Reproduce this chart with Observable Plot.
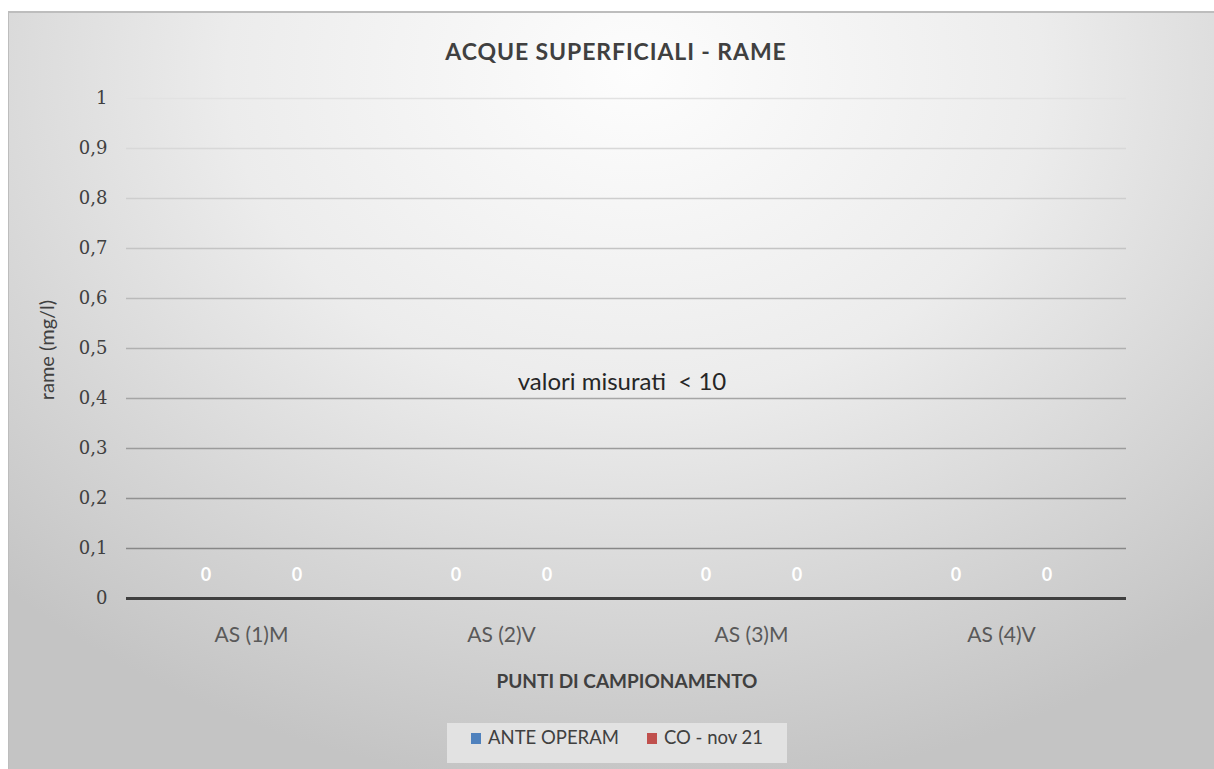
<!DOCTYPE html>
<html>
<head>
<meta charset="utf-8">
<script src="https://cdn.jsdelivr.net/npm/d3@7"></script>
<script src="https://cdn.jsdelivr.net/npm/@observablehq/plot@0.6"></script>
<style>
  html, body { margin: 0; padding: 0; background: #ffffff; }
  body { position: relative; width: 1214px; height: 769px; overflow: hidden; font-family: Lato, "Open Sans", sans-serif; }
  #frame {
    position: absolute; left: 8px; top: 11px; width: 1206px; height: 758px;
    background: radial-gradient(ellipse 75% 95% at 52% 8%, #fdfdfd 0%, #ececec 45%, #d6d6d6 75%, #c4c4c4 100%);
    box-shadow: inset 1px 2px 0 #bdbdbd;
  }
  #chart { position: absolute; left: 8px; top: 11px; }
  .lbl { position: absolute; white-space: nowrap; line-height: 1; }
  #title { left: 0; width: 1232px; text-align: center; top: 40px; font-size: 23px; letter-spacing: 0.9px; font-weight: bold; color: #404040; }
  #ylabel { left: 46px; top: 350px; transform: translate(-50%, -50%) rotate(-90deg); font-size: 20px; color: #404040; }
  #note { left: 622px; top: 381px; transform: translate(-50%, -50%); font-size: 24px; color: #262626; }
  #xlabel { left: 0; width: 1254px; text-align: center; top: 671px; font-size: 19px; font-weight: bold; color: #404040; }
  #legend { left: 447px; top: 723px; width: 340px; height: 40px; background: #e2e2e2; display: flex; align-items: flex-start; justify-content: center; gap: 28px; font-size: 18.5px; color: #404040; box-sizing: border-box; padding-top: 5px; }
  #legend span.sw { display: inline-block; width: 10px; height: 11px; margin-right: 7px; vertical-align: 0px; }
  svg g[aria-label="y-axis tick label"] text { font-family: "DejaVu Serif", "Liberation Serif", serif !important; font-size: 18px !important; fill: #404040 !important; }
  svg g[aria-label="fx-axis tick label"] text { font-family: Lato, "Open Sans", sans-serif !important; font-size: 21px !important; fill: #595959 !important; }
</style>
</head>
<body>
<div id="frame"></div>
<div id="chart"></div>
<div class="lbl" id="title">ACQUE SUPERFICIALI - RAME</div>
<div class="lbl" id="ylabel">rame (mg/l)</div>
<div class="lbl" id="note">valori misurati&nbsp; &lt; 10</div>
<div class="lbl" id="xlabel">PUNTI DI CAMPIONAMENTO</div>
<div class="lbl" id="legend"></div>
<script>
// ---- data ----
const categories = ["AS (1)M", "AS (2)V", "AS (3)M", "AS (4)V"];
const seriesNames = ["ANTE OPERAM", "CO - nov 21"];
const anteOperam = [0, 0, 0, 0];
const coNov21 = [0, 0, 0, 0];
const seriesColors = ["#4f81bd", "#c0504d"];
const yTicks = [0, 0.1, 0.2, 0.3, 0.4, 0.5, 0.6, 0.7, 0.8, 0.9, 1];
const yTickLabels = ["0", "0,1", "0,2", "0,3", "0,4", "0,5", "0,6", "0,7", "0,8", "0,9", "1"];

// ---- table ----
const rows = [];
categories.forEach((c, i) => {
  rows.push({category: c, series: seriesNames[0], value: anteOperam[i]});
  rows.push({category: c, series: seriesNames[1], value: coNov21[i]});
});
const gridColor = v => d3.interpolateRgb("#7d7d7d", "#e2e2e2")(v);
const grid = yTicks.filter(v => v > 0).map(v => ({v, color: gridColor(v)}));

const plot = Plot.plot({
  width: 1206,
  height: 758,
  marginLeft: 117,
  marginRight: 87,
  marginTop: 87,
  marginBottom: 171,
  style: {background: "transparent", overflow: "visible"},
  y: {domain: [0, 1], ticks: yTicks, tickFormat: d => yTickLabels[yTicks.indexOf(d)] ?? d, tickSize: 0, tickPadding: 19, label: null},
  x: {domain: seriesNames, axis: null, paddingInner: 0.2, paddingOuter: 0.4615},
  fx: {domain: categories, padding: 0, axis: "bottom", label: null, tickSize: 0, tickPadding: 29},
  color: {type: "identity"},
  marks: [
    Plot.ruleY(grid, {y: "v", stroke: "color", strokeWidth: 1.6}),
    Plot.barY(rows, {fx: "category", x: "series", y: "value", fill: d => seriesColors[seriesNames.indexOf(d.series)]}),
    Plot.text(rows, {fx: "category", x: "series", y: "value", text: d => String(d.value), dy: -23, fill: "#ffffff", fontWeight: "bold", fontSize: 18, fontFamily: "Lato, sans-serif"}),
    Plot.ruleY([0], {stroke: "#3f3f3f", strokeWidth: 3})
  ]
});
document.getElementById("chart").appendChild(plot);

// legend
const lg = document.getElementById("legend");
seriesNames.forEach((s, i) => {
  const item = document.createElement("div");
  item.innerHTML = `<span class="sw" style="background:${seriesColors[i]}"></span>${s}`;
  lg.appendChild(item);
});
</script>
</body>
</html>
